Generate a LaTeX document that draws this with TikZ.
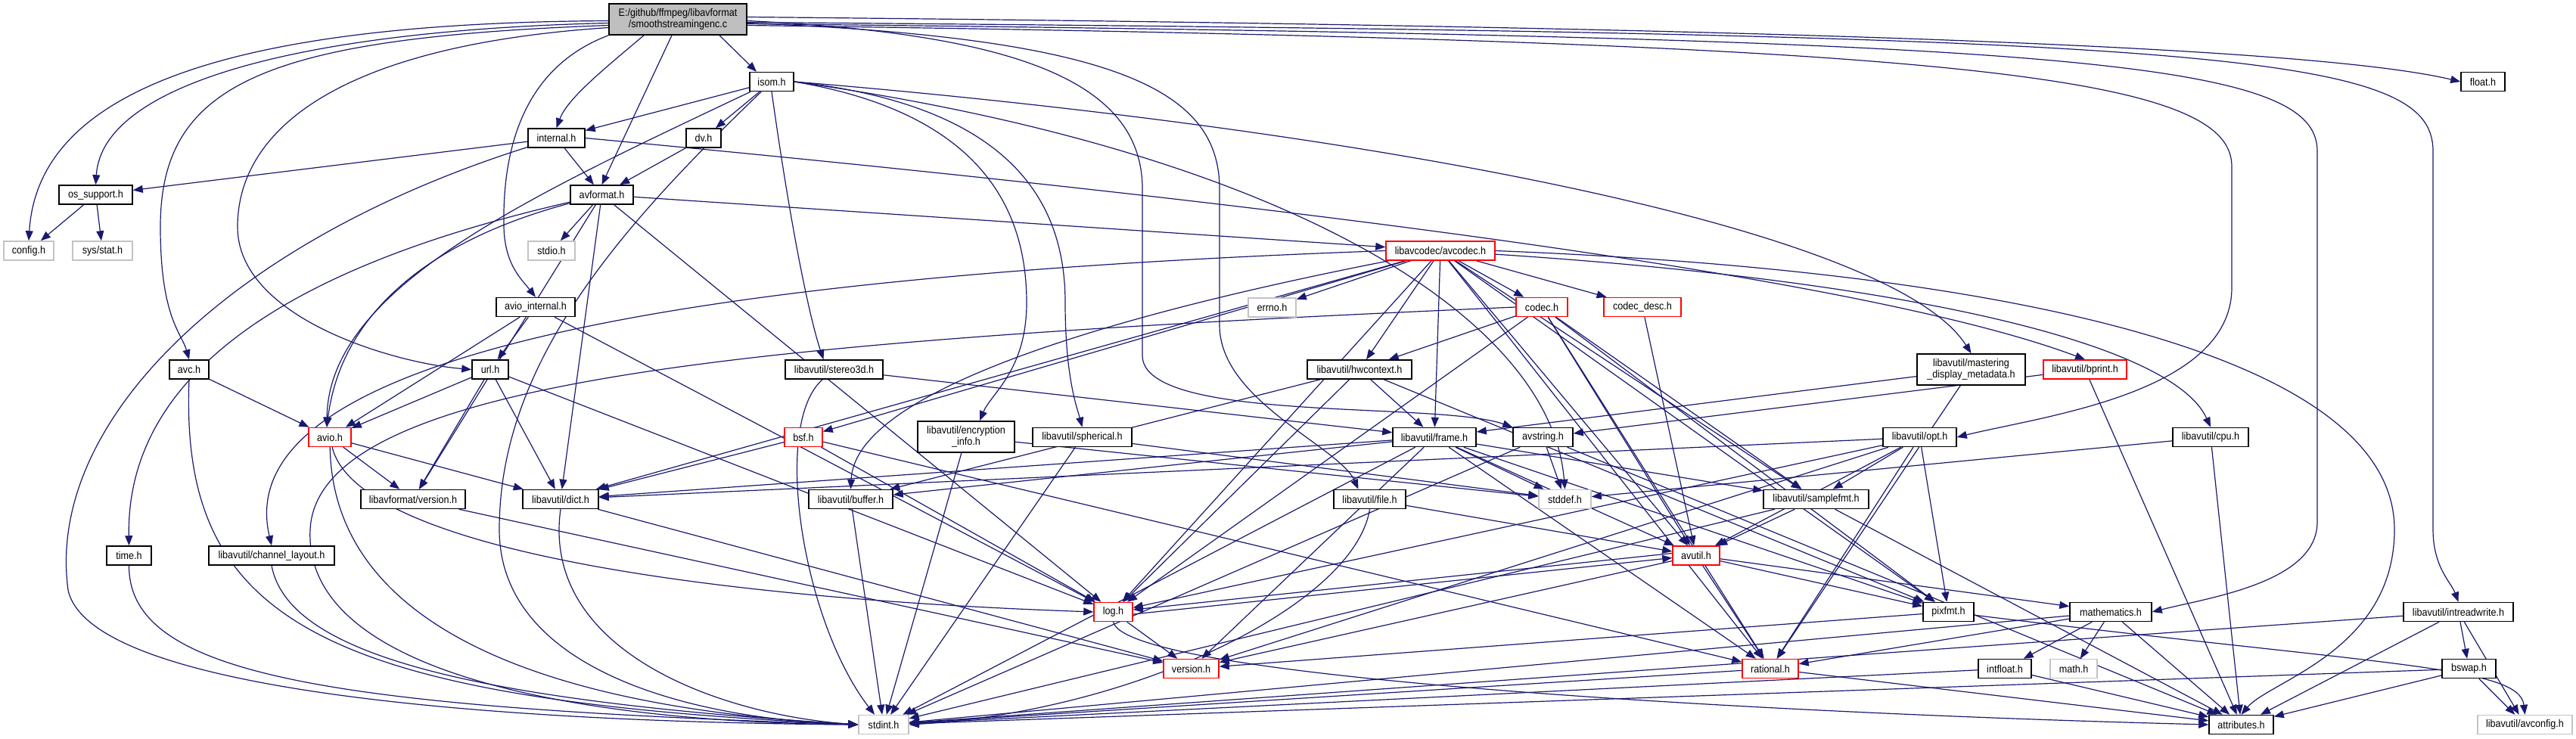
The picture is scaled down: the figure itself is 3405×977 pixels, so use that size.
\documentclass[tikz,border=0pt]{standalone}
\usepackage{fontspec}
\newfontfamily\dxfont[FakeStretch=0.9]{Liberation Sans}
\usetikzlibrary{arrows.meta,backgrounds}
\definecolor{edgeblue}{RGB}{25,25,112}
\definecolor{rootgray}{RGB}{191,191,191}
\definecolor{sysgray}{RGB}{195,195,195}
\definecolor{truncred}{RGB}{255,0,0}
\tikzset{
    hdr/.style={draw=black, fill=white, line width=1.5pt, inner sep=0pt, minimum height=25pt, align=center, font=\dxfont\fontsize{14}{15}\selectfont},
    hdrtrunc/.style={hdr, draw=truncred},
    hdrsys/.style={hdr, draw=sysgray},
    hdrtwo/.style={hdr, minimum height=41pt},
    hdrroot/.style={hdrtwo, fill=rootgray},
    inc/.style={draw=edgeblue, line width=1.2pt, -{Triangle[length=13pt,width=10pt]}}
}

\begin{document}
\begin{tikzpicture}[x=1pt,y=-1pt]
\useasboundingbox (0,0) rectangle (3405,977);
\node[hdrroot, minimum width=182] (root) at (896,25.5) {E:/github/ffmpeg/libavformat\\/smoothstreamingenc.c};
\node[hdr, minimum width=58] (isom) at (1020,108) {isom.h};
\node[hdr, minimum width=75] (internal) at (735.5,182.5) {internal.h};
\node[hdr, minimum width=46] (dv) at (930,182.5) {dv.h};
\node[hdr, minimum width=97] (ossupport) at (126.5,257.5) {os\_support.h};
\node[hdr, minimum width=83] (avformat) at (795.5,257.5) {avformat.h};
\node[hdrsys, minimum width=66] (config) at (38,331.5) {config.h};
\node[hdrsys, minimum width=79] (sysstat) at (135.5,331.5) {sys/stat.h};
\node[hdrsys, minimum width=62] (stdio) at (729,331.5) {stdio.h};
\node[hdr, minimum width=104] (aviointernal) at (708,406) {avio\_internal.h};
\node[hdr, minimum width=52] (avc) at (250,488.5) {avc.h};
\node[hdr, minimum width=48] (url) at (648,488.5) {url.h};
\node[hdrtrunc, minimum width=56] (avio) at (436,578) {avio.h};
\node[hdr, minimum width=138] (lavfversion) at (546,660) {libavformat/version.h};
\node[hdr, minimum width=100] (dict) at (741,660) {libavutil/dict.h};
\node[hdr, minimum width=59] (time) at (170.5,734.5) {time.h};
\node[hdr, minimum width=166] (chlayout) at (359,734.5) {libavutil/channel\_layout.h};
\node[hdrsys, minimum width=66] (stdint) at (1168,958) {stdint.h};
\node[hdr, minimum width=111] (buffer) at (1124.5,660) {libavutil/buffer.h};
\node[hdrtrunc, minimum width=51] (log) at (1471.5,809) {log.h};
\node[hdrtrunc, minimum width=73] (version) at (1574.5,884) {version.h};
\node[hdr, minimum width=95] (file) at (1810.5,660) {libavutil/file.h};
\node[hdrtrunc, minimum width=144] (avcodec) at (1904,331.5) {libavcodec/avcodec.h};
\node[hdrsys, minimum width=63] (errno) at (1681.5,406.5) {errno.h};
\node[hdr, minimum width=129] (stereo) at (1102.5,488.5) {libavutil/stereo3d.h};
\node[hdr, minimum width=138] (hwcontext) at (1797,488.5) {libavutil/hwcontext.h};
\node[hdrtrunc, minimum width=50] (bsf) at (1062,578) {bsf.h};
\node[hdrtwo, minimum width=128] (encinfo) at (1277,577.5) {libavutil/encryption\\\_info.h};
\node[hdr, minimum width=131] (spherical) at (1430.5,578) {libavutil/spherical.h};
\node[hdr, minimum width=110] (frame) at (1896,578) {libavutil/frame.h};
\node[hdrtrunc, minimum width=68] (codec) at (2038,406) {codec.h};
\node[hdrtrunc, minimum width=102] (codecdesc) at (2171,406) {codec\_desc.h};
\node[hdrtwo, minimum width=143] (mastering) at (2605.5,488.5) {libavutil/mastering\\\_display\_metadata.h};
\node[hdrtrunc, minimum width=110] (bprint) at (2756,488.5) {libavutil/bprint.h};
\node[hdr, minimum width=79] (avstring) at (2039.5,578) {avstring.h};
\node[hdr, minimum width=97] (opt) at (2537.5,578) {libavutil/opt.h};
\node[hdr, minimum width=100] (cpu) at (2922,578) {libavutil/cpu.h};
\node[hdr, minimum width=58] (float) at (3282,108) {float.h};
\node[hdrsys, minimum width=69] (stddef) at (2068.5,660) {stddef.h};
\node[hdr, minimum width=139] (samplefmt) at (2400.5,660) {libavutil/samplefmt.h};
\node[hdrtrunc, minimum width=62] (avutil) at (2242,734.5) {avutil.h};
\node[hdr, minimum width=67] (pixfmt) at (2575.5,809) {pixfmt.h};
\node[hdr, minimum width=108] (mathematics) at (2790,809) {mathematics.h};
\node[hdr, minimum width=145] (intrw) at (3249.5,809) {libavutil/intreadwrite.h};
\node[hdrtrunc, minimum width=74] (rational) at (2340,884) {rational.h};
\node[hdr, minimum width=70] (intfloat) at (2650,884) {intfloat.h};
\node[hdrsys, minimum width=62] (mathh) at (2741,884) {math.h};
\node[hdr, minimum width=71] (bswap) at (3263.5,884) {bswap.h};
\node[hdr, minimum width=85] (attributes) at (2962.5,958) {attributes.h};
\node[hdrsys, minimum width=125] (avconfig) at (3337.5,958) {libavutil/avconfig.h};

\begin{pgfonlayer}{background}
% smoothstreamingenc.c
\draw[inc] ([yshift=-2]root.west) .. controls (300,30) and (50,120) .. (config.north);
\draw[inc] ([yshift=-5]root.west) .. controls (400,40) and (135,110) .. (ossupport.north);
\draw[inc] ([yshift=-8]root.west) .. controls (350,50) and (212,110) .. (212,300) .. controls (212,420) and (240,440) .. (avc.north);
\draw[inc] ([yshift=-11]root.west) .. controls (450,60) and (314,170) .. (314,300) .. controls (314,420) and (520,480) .. (url.west);
\draw[inc] (root.south west) .. controls (690,90) and (664,200) .. (666,300) .. controls (667,350) and (690,370) .. (aviointernal.north);
\draw[inc] ([xshift=-45]root.south) .. controls (800,90) and (750,130) .. (internal.north);
\draw[inc] ([xshift=-8]root.south) -- (avformat.north);
\draw[inc] ([xshift=55]root.south) -- ([xshift=-20]isom.north);
\draw[inc] ([yshift=3]root.east) .. controls (2300,35) and (3050,60) .. (float.west);
\draw[inc] ([yshift=-2]root.east) .. controls (1350,45) and (1510,110) .. (1510,250) -- (1510,470) .. controls (1510,560) and (1900,530) .. (avstring.north west);
\draw[inc] ([yshift=-5]root.east) .. controls (1480,50) and (1612,120) .. (1612,250) -- (1612,430) .. controls (1612,530) and (1770,590) .. ([xshift=-15]file.north);
\draw[inc] ([yshift=-8]root.east) .. controls (2600,55) and (2950,100) .. (2950,220) -- (2950,380) .. controls (2950,520) and (2700,550) .. (opt.east);
\draw[inc] ([yshift=-6]root.east) .. controls (2750,50) and (3063,80) .. (3063,200) -- (3063,690) .. controls (3063,770) and (2920,790) .. (mathematics.east);
\draw[inc] ([yshift=-4]root.east) .. controls (2950,45) and (3216,70) .. (3216,200) -- (3216,700) .. controls (3216,750) and (3240,770) .. (intrw.north);
% isom.h
\draw[inc] (isom) -- (internal);
\draw[inc] (isom) -- (dv);
\draw[inc] (isom) .. controls (700,260) and (434,380) .. ([xshift=-4]avio.north);
\draw[inc] (isom) .. controls (820,300) and (660,480) .. (660,700) .. controls (660,880) and (900,950) .. (stdint.west);
\draw[inc] (isom.south) .. controls (1045,300) and (1070,420) .. ([xshift=-14]stereo.north);
\draw[inc] (isom.east) .. controls (1300,150) and (1357,280) .. (1357,400) .. controls (1357,490) and (1310,520) .. ([xshift=18]encinfo.north);
\draw[inc] (isom.east) .. controls (1340,140) and (1408,270) .. (1408,400) .. controls (1408,500) and (1424,540) .. (spherical.north);
\draw[inc] (isom.east) .. controls (1800,170) and (2500,300) .. (mastering.north);
\draw[inc] (isom.east) .. controls (1700,200) and (2050,420) .. (stddef.north);
% internal.h
\draw[inc] (internal) -- (ossupport);
\draw[inc] (internal) -- (avformat);
\draw[inc] (internal.east) .. controls (1600,260) and (2450,360) .. (bprint.north);
\draw[inc] (internal) .. controls (300,320) and (60,560) .. (90,780) .. controls (120,920) and (700,955) .. (stdint.west);
% dv.h, os_support.h
\draw[inc] (dv) -- (avformat);
\draw[inc] (ossupport) -- (config);
\draw[inc] (ossupport) -- (sysstat);
% avformat.h
\draw[inc] (avformat) -- (stdio);
\draw[inc] (avformat) .. controls (480,330) and (166,450) .. (time.north);
\draw[inc] (avformat) -- (avcodec);
\draw[inc] (avformat) -- (dict);
\draw[inc] (avformat) -- (log);
\draw[inc] (avformat) .. controls (560,320) and (450,420) .. ([xshift=-4]avio.north);
\draw[inc] (avformat) -- (lavfversion);
% avio_internal.h, url.h, avc.h
\draw[inc] (aviointernal) -- (avio);
\draw[inc] (aviointernal) -- (url);
\draw[inc] (aviointernal) -- (log);
\draw[inc] (url) -- (avio);
\draw[inc] (url) -- (lavfversion);
\draw[inc] (url) -- (dict);
\draw[inc] (url) -- (log);
\draw[inc] (avc) -- (avio);
\draw[inc] (avc.south) .. controls (237,820) and (420,925) .. (stdint.west);
% avio.h
\draw[inc] (avio) -- (lavfversion);
\draw[inc] (avio) -- (dict);
\draw[inc] (avio) .. controls (470,720) and (900,790) .. (log.west);
\draw[inc] (avio) .. controls (440,820) and (700,935) .. (stdint.west);
\draw[inc] (lavfversion) -- (version);
\draw[inc] (dict.south) .. controls (715,860) and (950,945) .. (stdint.west);
\draw[inc] (dict) -- (version);
\draw[inc] (time.south) .. controls (170,890) and (420,935) .. (stdint.west);
\draw[inc] (chlayout.south) .. controls (380,860) and (600,925) .. (stdint.west);
\draw[inc] (buffer) -- (stdint);
% avcodec.h
\draw[inc] (avcodec) -- (errno);
\draw[inc] (avcodec) -- (samplefmt);
\draw[inc] (avcodec.east) .. controls (2700,360) and (3165,480) .. (3165,700) .. controls (3165,860) and (3000,900) .. (attributes.north);
\draw[inc] (avcodec) -- (avutil);
\draw[inc] (avcodec) .. controls (1450,420) and (1130,520) .. (buffer.north);
\draw[inc] (avcodec) .. controls (2500,370) and (2870,450) .. (cpu.north);
\draw[inc] (avcodec.west) .. controls (900,365) and (300,470) .. (chlayout.north);
\draw[inc] (avcodec) -- (dict);
\draw[inc] (avcodec) -- (frame);
\draw[inc] (avcodec) -- (hwcontext);
\draw[inc] (avcodec) -- (log);
\draw[inc] (avcodec) -- (pixfmt);
\draw[inc] (avcodec) -- (rational);
\draw[inc] (avcodec) -- (bsf);
\draw[inc] (avcodec) -- (codec);
\draw[inc] (avcodec) -- (codecdesc);
% bsf.h, codec.h, codec_desc.h
\draw[inc] (bsf) -- (dict);
\draw[inc] (bsf) -- (log);
\draw[inc] (bsf) -- (rational);
\draw[inc] (codec.west) .. controls (1000,450) and (420,500) .. (410,700) .. controls (400,900) and (800,955) .. (stdint.west);
\draw[inc] (codec) -- (avutil);
\draw[inc] (codec) -- (hwcontext);
\draw[inc] (codec) -- (log);
\draw[inc] (codec) -- (pixfmt);
\draw[inc] (codec) -- (rational);
\draw[inc] (codec) -- (samplefmt);
\draw[inc] (codecdesc) -- (avutil);
% hwcontext.h, frame.h
\draw[inc] (hwcontext) -- (buffer);
\draw[inc] (hwcontext) -- (frame);
\draw[inc] (hwcontext) -- (log);
\draw[inc] (hwcontext) -- (pixfmt);
\draw[inc] (frame) -- (stddef);
\draw[inc] (frame) -- (stdint);
\draw[inc] (frame) -- (avutil);
\draw[inc] (frame) -- (buffer);
\draw[inc] (frame) -- (dict);
\draw[inc] (frame) -- (rational);
\draw[inc] (frame) -- (samplefmt);
\draw[inc] (frame) -- (pixfmt);
\draw[inc] (frame) -- (version);
% stereo3d.h, encryption_info.h, spherical.h, mastering_display_metadata.h
\draw[inc] (stereo) .. controls (1020,560) and (1060,820) .. ([xshift=-12]stdint.north);
\draw[inc] (stereo) -- (frame);
\draw[inc] (encinfo) -- (stddef);
\draw[inc] (encinfo) -- (stdint);
\draw[inc] (spherical) -- (stddef);
\draw[inc] (spherical) -- (stdint);
\draw[inc] (mastering) -- (frame);
\draw[inc] (mastering) -- (rational);
% bprint.h, avstring.h, opt.h, cpu.h, file.h
\draw[inc] (bprint) -- (attributes);
\draw[inc] (bprint) -- (avstring);
\draw[inc] (avstring) -- (stddef);
\draw[inc] (avstring) -- (stdint);
\draw[inc] (avstring) -- (attributes);
\draw[inc] (opt) -- (rational);
\draw[inc] (opt) -- (avutil);
\draw[inc] (opt) -- (dict);
\draw[inc] (opt) -- (log);
\draw[inc] (opt) -- (pixfmt);
\draw[inc] (opt) -- (samplefmt);
\draw[inc] (opt) -- (version);
\draw[inc] (cpu) -- (stddef);
\draw[inc] (cpu) -- (attributes);
\draw[inc] (file.south) .. controls (1790,800) and (1500,940) .. (stdint.east);
\draw[inc] (file) -- (avutil);
% samplefmt.h, avutil.h, log.h, pixfmt.h
\draw[inc] (samplefmt) -- (stdint);
\draw[inc] (samplefmt) -- (avutil);
\draw[inc] (samplefmt) -- (attributes);
\draw[inc] (avutil) -- (rational);
\draw[inc] (avutil) -- (version);
\draw[inc] (avutil) -- (mathematics);
\draw[inc] ([yshift=3]avutil.west) -- ([yshift=3]log.east);
\draw[inc] (avutil) -- (pixfmt);
\draw[inc] ([yshift=-3]log.east) -- ([yshift=-3]avutil.west);
\draw[inc] (log.south) .. controls (1490,900) and (2400,945) .. (attributes.west);
\draw[inc] (log) -- (version);
\draw[inc] (pixfmt) .. controls (3150,880) and (3330,880) .. (avconfig.north);
\draw[inc] (pixfmt) -- (version);
% mathematics.h, rational.h, intfloat.h
\draw[inc] (mathematics) -- (stdint);
\draw[inc] (mathematics) -- (mathh);
\draw[inc] (mathematics) -- (attributes);
\draw[inc] (mathematics) -- (rational);
\draw[inc] (mathematics) -- (intfloat);
\draw[inc] (rational) -- (stdint);
\draw[inc] (rational) -- (attributes);
\draw[inc] (intfloat) -- (stdint);
\draw[inc] (intfloat) -- (attributes);
% intreadwrite.h, bswap.h
\draw[inc] (intrw) -- (stdint);
\draw[inc] (intrw) -- (avconfig);
\draw[inc] (intrw) -- (attributes);
\draw[inc] (intrw) -- (bswap);
\draw[inc] (bswap) -- (stdint);
\draw[inc] (bswap) -- (avconfig);
\draw[inc] (bswap) -- (attributes);
\end{pgfonlayer}
\end{tikzpicture}
\end{document}
